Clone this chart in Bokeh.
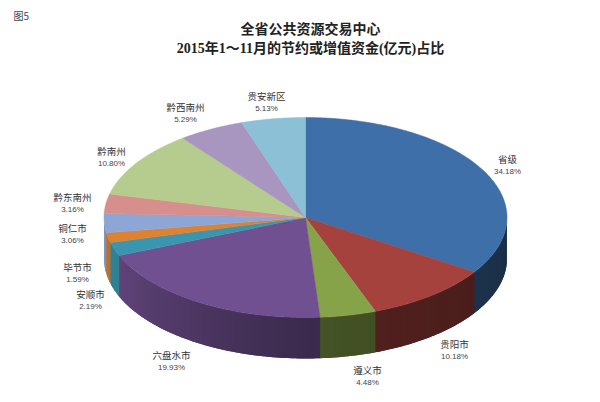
import numpy as np
from bokeh.plotting import figure
from bokeh.embed import file_html
from bokeh.resources import INLINE
from bokeh.core.properties import value
from bokeh.models import Range1d

categories = ["省级", "贵阳市", "遵义市", "六盘水市", "安顺市", "毕节市", "铜仁市", "黔东南州", "黔南州", "黔西南州", "贵安新区"]
shares = [34.18, 10.18, 4.48, 19.93, 2.19, 1.59, 3.06, 3.16, 10.80, 5.29, 5.13]
percent_labels = ["34.18%", "10.18%", "4.48%", "19.93%", "2.19%", "1.59%", "3.06%", "3.16%", "10.80%", "5.29%", "5.13%"]
colors = ["#3f6fa8", "#a5423e", "#86a34a", "#705090", "#3a96ae", "#dc8230", "#8ea6d6", "#d68f8d", "#b5cc8e", "#a896c0", "#8cc0d6"]
title_lines = ["全省公共资源交易中心", "2015年1～11月的节约或增值资金(亿元)占比"]
label_x = [507, 454, 367, 171, 90, 77, 72, 72, 111, 185, 266]
label_y = [158, 343, 369, 354, 293, 266, 227, 196, 150, 106, 95]

CX, CY, RX, RY, DEPTH = 305, 217, 201.5, 100, 41
SANS = value("Noto Sans CJK SC")
TITLE_FONT = value("'Liberation Serif','Noto Sans CJK SC'")

p = figure(width=584, height=386, output_backend="svg", toolbar_location=None,
           x_range=Range1d(0, 584), y_range=Range1d(386, 0),
           min_border=0, outline_line_color=None, background_fill_color="white")
p.axis.visible = False
p.grid.visible = False

def pt(deg):
    r = np.radians(deg)
    return CX + RX * np.sin(r), CY - RY * np.cos(r)

def shade(hex_color, f):
    c = [int(hex_color[i:i + 2], 16) for i in (1, 3, 5)]
    return "#%02x%02x%02x" % tuple(int(v * f) for v in c)

total = sum(shares)
edges = np.concatenate([[0], np.cumsum(shares)]) / total * 360

# front wall, drawn as overlapping strips for the shading
wx, wy, wc = [], [], []
STEP = 2.0
for i, col in enumerate(colors):
    a0, a1 = max(edges[i], 90), min(edges[i + 1], 270)
    if a1 <= a0:
        continue
    n = max(1, int((a1 - a0) / STEP))
    t = np.linspace(a0, a1, n + 1)
    for s, e in zip(t[:-1], t[1:]):
        m = np.linspace(s, min(e + STEP, 270), 5)
        xa, ya = pt(m)
        wx.append(list(xa) + list(xa[::-1]))
        wy.append(list(ya) + list(ya[::-1] + DEPTH))
        wc.append(shade(col, np.interp((s + e) / 2, [90, 170, 190, 250, 270], [.42, .5, .58, .86, .88])))
p.patches(wx, wy, fill_color=wc, line_color=None)

# top face
tx, ty = [], []
for i in range(len(shares)):
    t = np.linspace(edges[i], edges[i + 1], max(3, int(edges[i + 1] - edges[i]) * 2))
    x, y = pt(t)
    tx.append([CX] + list(x))
    ty.append([CY] + list(y))
p.patches(tx, ty, fill_color=colors, line_color=colors, line_width=0.5)

# labels
p.text(label_x, label_y, text=categories, text_font=SANS, text_font_size="9.5px",
       text_align="center", text_baseline="middle", text_color="#333333")
p.text(label_x, [y + 13 for y in label_y], text=percent_labels, text_font=value("Liberation Sans"),
       text_font_size="8px", text_align="center", text_baseline="middle", text_color="#444444")

# title
p.text([310, 310], [29, 48], text=title_lines, text_font=TITLE_FONT, text_font_size="14px",
       text_font_style="bold", text_align="center", text_baseline="middle", text_color="#222222")
p.text([13], [15], text=["图5"], text_font=SANS, text_font_size="10px",
       text_align="left", text_baseline="middle", text_color="#444444")

open("out.html", "w").write(file_html(p, INLINE))
